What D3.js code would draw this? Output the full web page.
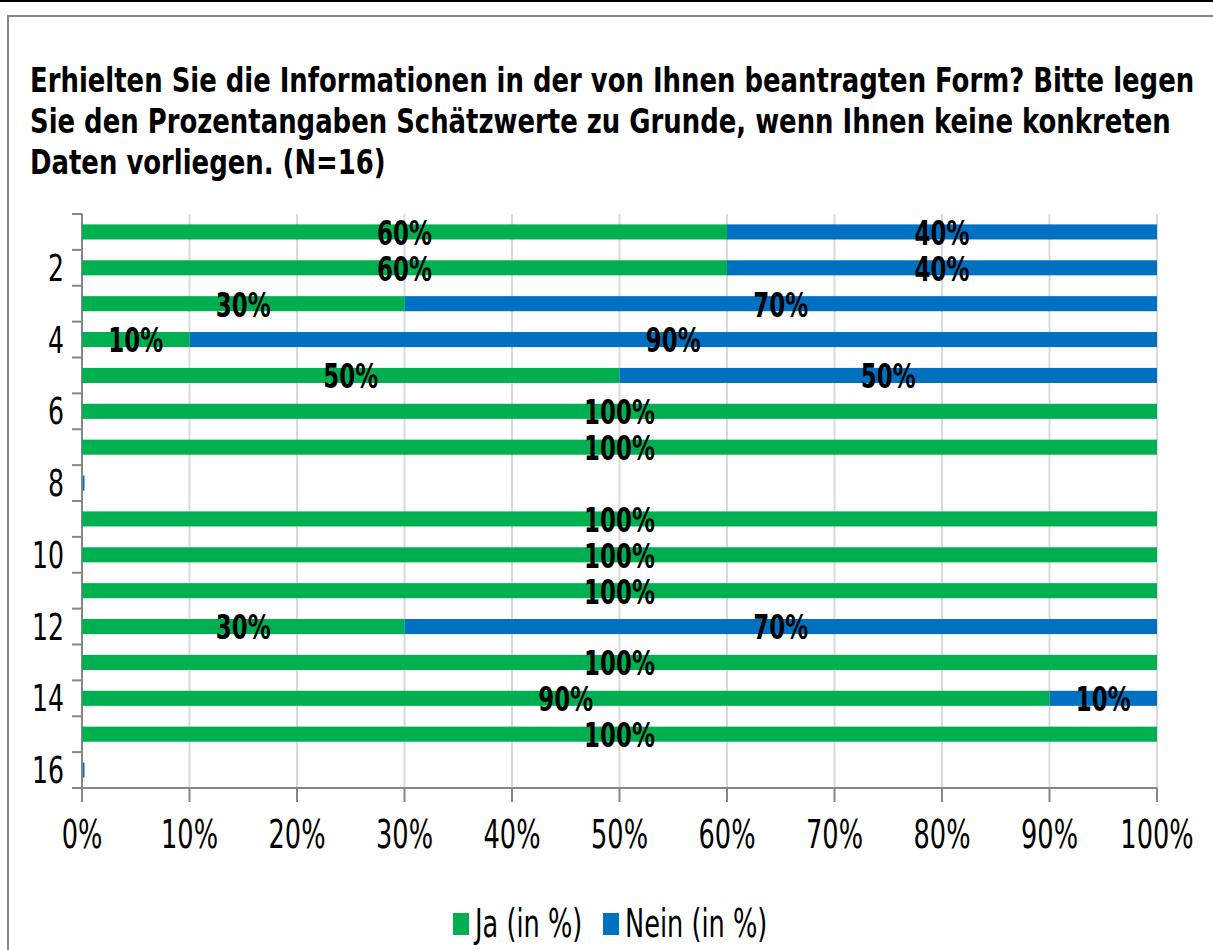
<!DOCTYPE html>
<html>
<head>
<meta charset="utf-8">
<script src="https://cdn.jsdelivr.net/npm/d3@7"></script>
<style>
  body { margin: 0; background: #fff; }
  text { font-family: "DejaVu Sans Condensed", "DejaVu Sans", sans-serif; font-stretch: condensed; }
</style>
</head>
<body>
<svg id="chart" width="1213" height="950"></svg>
<script>
const titleLines = [
  'Erhielten Sie die Informationen in der von Ihnen beantragten Form? Bitte legen',
  'Sie den Prozentangaben Schätzwerte zu Grunde, wenn Ihnen keine konkreten',
  'Daten vorliegen. (N=16)'
];
const categories = d3.range(1, 17);
const jaValues   = [60, 60, 30, 10, 50, 100, 100, null, 100, 100, 100, 30, 100, 90, 100, null];
const neinValues = [40, 40, 70, 90, 50, 0, 0, null, 0, 0, 0, 70, 0, 10, 0, null];
const seriesNames = ['Ja (in %)', 'Nein (in %)'];
const colors = ['#00b050', '#0070c0'];
const xTicks = d3.range(0, 101, 10);

const svg = d3.select('#chart');
const sy = 1.35; // the picture is stretched vertically

// outer lines
svg.append('line').attr('x1', 0).attr('x2', 1213).attr('y1', 1).attr('y2', 1)
  .attr('stroke', '#000').attr('stroke-width', 2);
svg.append('rect').attr('x', 8).attr('y', 16).attr('width', 1220).attr('height', 950)
  .attr('fill', 'none').attr('stroke', '#888').attr('stroke-width', 2);

function label(g, x, y, txt, size, opts = {}) {
  return g.append('text')
    .attr('transform', `translate(${x},${y}) scale(1,${opts.sy || sy})`)
    .attr('font-size', size)
    .attr('font-weight', opts.bold ? 'bold' : 'normal')
    .attr('text-anchor', opts.anchor || 'start')
    .attr('dominant-baseline', opts.baseline || 'alphabetic')
    .attr('fill', '#000')
    .text(txt);
}

titleLines.forEach((t, i) => label(svg, 30, 92 + i * 41, t, 28.8, { bold: true, sy: 1.2 }));

const x = d3.scaleLinear().domain([0, 100]).range([82, 1157]);
const y = d3.scaleBand().domain(categories).range([214, 788]).paddingInner(0.58).paddingOuter(0.29);
const band = (788 - 214) / categories.length;

// gridlines
svg.append('g').selectAll('line').data(xTicks.slice(1)).join('line')
  .attr('x1', d => x(d)).attr('x2', d => x(d))
  .attr('y1', 214).attr('y2', 788)
  .attr('stroke', '#d9d9d9').attr('stroke-width', 2);

// bars
const rows = categories.map((c, i) => ({ c, ja: jaValues[i], nein: neinValues[i] }));
const barG = svg.append('g');

// axes
const axG = svg.append('g').attr('stroke', '#868686').attr('stroke-width', 2);
axG.append('line').attr('x1', 82).attr('x2', 82).attr('y1', 214).attr('y2', 802);
axG.append('line').attr('x1', 72).attr('x2', 1157).attr('y1', 788).attr('y2', 788);
axG.selectAll('.xt').data(xTicks).join('line').attr('class', 'xt')
  .attr('x1', d => x(d)).attr('x2', d => x(d)).attr('y1', 788).attr('y2', 802);
axG.selectAll('.yt').data(d3.range(0, categories.length + 1)).join('line').attr('class', 'yt')
  .attr('x1', 72).attr('x2', 82)
  .attr('y1', i => 214 + i * band).attr('y2', i => 214 + i * band);

rows.forEach(r => {
  if (r.ja === null) {
    // empty answer: Excel leaves a hairline of the last series
    barG.raise().append('rect').attr('x', x(0) + 1).attr('y', y(r.c)).attr('width', 1.5)
      .attr('height', y.bandwidth()).attr('fill', colors[1]);
    return;
  }
  const segs = [[0, r.ja], [r.ja, r.ja + r.nein]];
  segs.forEach((s, k) => {
    if (s[1] - s[0] <= 0) return;
    barG.append('rect').attr('x', x(s[0])).attr('y', y(r.c))
      .attr('width', x(s[1]) - x(s[0])).attr('height', y.bandwidth())
      .attr('fill', colors[k]);
  });
});

// data labels
const lblG = svg.append('g');
rows.forEach(r => {
  if (r.ja === null) return;
  const cy = y(r.c) + y.bandwidth() / 2 + 1;
  if (r.ja > 0) label(lblG, (x(0) + x(r.ja)) / 2, cy, r.ja + '%', 25.5, { bold: true, anchor: 'middle', baseline: 'central' });
  if (r.nein > 0) label(lblG, (x(r.ja) + x(r.ja + r.nein)) / 2, cy, r.nein + '%', 25.5, { bold: true, anchor: 'middle', baseline: 'central' });
});

// axis labels
const tickG = svg.append('g');
categories.filter(c => c % 2 === 0).forEach(c => {
  label(tickG, 64, y(c) + y.bandwidth() / 2, String(c), 28, { anchor: 'end', baseline: 'central' });
});
xTicks.forEach(t => label(tickG, x(t), 835, t + '%', 28.5, { anchor: 'middle', baseline: 'central' }));

// legend
const legG = svg.append('g');
const legX = [453, 603];
seriesNames.forEach((n, i) => {
  legG.append('rect').attr('x', legX[i]).attr('y', 913).attr('width', 16).attr('height', 22).attr('fill', colors[i]);
  label(legG, legX[i] + 22, 924, n, 28.5, { baseline: 'central' });
});
</script>
</body>
</html>
